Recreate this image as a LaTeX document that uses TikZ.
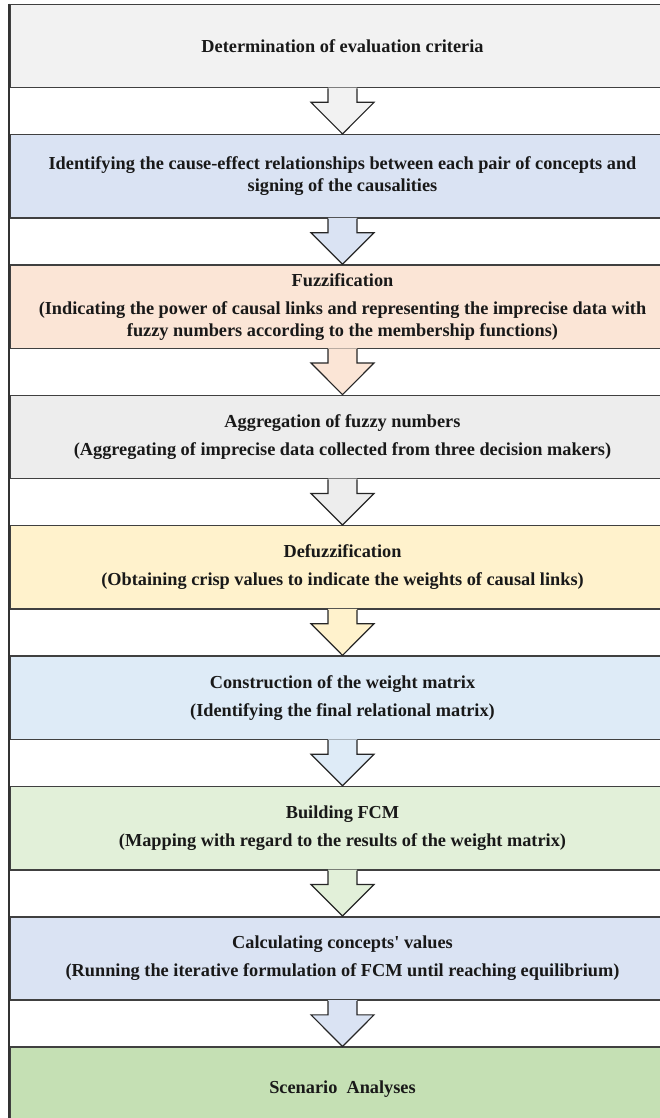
\documentclass[tikz,border=0pt]{standalone}
\usepackage{fontspec}
\setmainfont{Liberation Serif}
\usepackage{xcolor}
\usetikzlibrary{calc,positioning}

\definecolor{critgray}{HTML}{F2F2F2}
\definecolor{causeblue}{HTML}{DAE3F3}
\definecolor{fuzzpeach}{HTML}{FBE5D6}
\definecolor{aggrgray}{HTML}{EDEDED}
\definecolor{defuzzyellow}{HTML}{FFF2CC}
\definecolor{matrixblue}{HTML}{DEEBF7}
\definecolor{fcmgreen}{HTML}{E2F0D9}
\definecolor{valueblue}{HTML}{DAE3F3}
\definecolor{scengreen}{HTML}{C5E0B4}

\tikzset{
  stage/.style={draw=black!75,line width=1.5pt,minimum width=665pt,minimum height=83.3pt,
                inner sep=0pt,align=center,text=black!90,
                font=\bfseries\fontsize{18.3}{22}\selectfont},
  blockline/.style={draw=black!85,line width=1.2pt,line join=miter},
  frameline/.style={draw=black!80,line width=2pt}
}

\begin{document}
\begin{tikzpicture}[x=1pt,y=-1pt]
 \clip (0,0) rectangle (660,1118);
 % the stages, top to bottom
 \node[stage,fill=critgray] (crit) at (342.5,45.95) {Determination of evaluation criteria};
 \node[stage,fill=causeblue,below=45.56pt of crit] (cause)
   {Identifying the cause-effect relationships between each pair of concepts and\\
    signing of the causalities};
 \node[stage,fill=fuzzpeach,below=45.56pt of cause] (fuzz)
   {Fuzzification\\[6pt]
    (Indicating the power of causal links and representing the imprecise data with\\
    fuzzy numbers according to the membership functions)};
 \node[stage,fill=aggrgray,below=45.56pt of fuzz] (aggr)
   {Aggregation of fuzzy numbers\\[6pt]
    (Aggregating of imprecise data collected from three decision makers)};
 \node[stage,fill=defuzzyellow,below=45.56pt of aggr] (defuzz)
   {Defuzzification\\[6pt]
    (Obtaining crisp values to indicate the weights of causal links)};
 \node[stage,fill=matrixblue,below=45.56pt of defuzz] (wmat)
   {Construction of the weight matrix\\[6pt]
    (Identifying the final relational matrix)};
 \node[stage,fill=fcmgreen,below=45.56pt of wmat] (fcm)
   {Building FCM\\[6pt]
    (Mapping with regard to the results of the weight matrix)};
 \node[stage,fill=valueblue,below=45.56pt of fcm] (values)
   {Calculating concepts\textquotesingle{} values\\[6pt]
    (Running the iterative formulation of FCM until reaching equilibrium)};
 \node[stage,fill=scengreen,below=45.56pt of values] (scen) {Scenario~~Analyses};
 % block arrows between the stages
 \foreach \a/\b/\c in {crit/cause/critgray,cause/fuzz/causeblue,fuzz/aggr/fuzzpeach,
                       aggr/defuzz/aggrgray,defuzz/wmat/defuzzyellow,wmat/fcm/matrixblue,
                       fcm/values/fcmgreen,values/scen/valueblue}{
   \fill[\c] ($(\a.south)+(-14.5,-0.8)$) -- ($(\a.south)+(-14.5,14)$) -- ($(\a.south)+(-31.5,14)$)
     -- (\b.north) -- ($(\a.south)+(31.5,14)$) -- ($(\a.south)+(14.5,14)$)
     -- ($(\a.south)+(14.5,-0.8)$) -- cycle;
   \draw[blockline] ($(\a.south)+(-14.5,0)$) -- ($(\a.south)+(-14.5,14)$) -- ($(\a.south)+(-31.5,14)$)
     -- (\b.north) -- ($(\a.south)+(31.5,14)$) -- ($(\a.south)+(14.5,14)$)
     -- ($(\a.south)+(14.5,0)$);
 }
 \draw[frameline] (crit.north west) -- (scen.south west);
\end{tikzpicture}
\end{document}
